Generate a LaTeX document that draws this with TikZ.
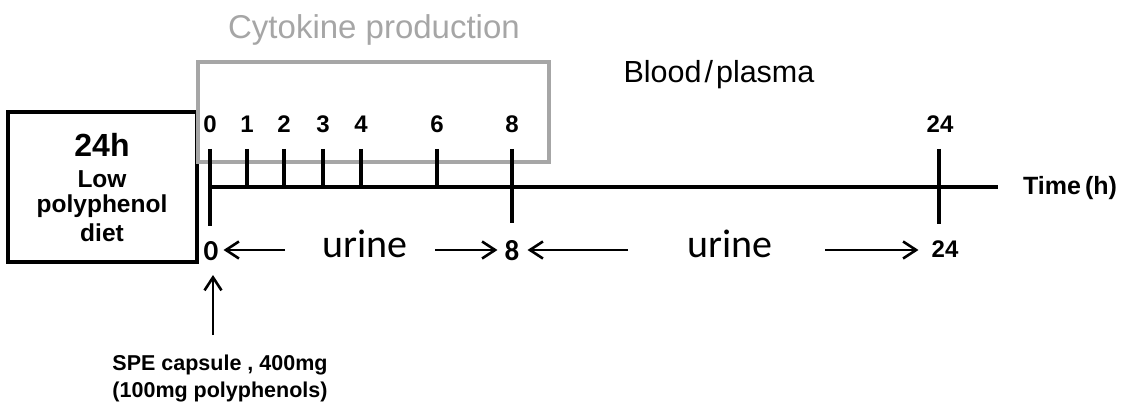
\documentclass[tikz,border=0pt]{standalone}
\usepackage{fontspec}
\setmainfont{Liberation Sans}
\newfontfamily\calib{Carlito}
\usetikzlibrary{arrows.meta}
\definecolor{boxgray}{HTML}{A6A6A6}
\tikzset{
  thickline/.style={line width=3.8pt},
  ticklbl/.style={font=\bfseries\fontsize{24}{26}\selectfont, inner sep=0pt, anchor=base},
  diettxt/.style={font=\bfseries\fontsize{24.5}{26}\selectfont, inner sep=0pt, anchor=base},
  urinetxt/.style={font=\calib\fontsize{40}{42}\selectfont, inner sep=0pt, anchor=base},
  bottomnum/.style={font=\calib\bfseries\fontsize{29}{30}\selectfont, inner sep=0pt, anchor=base},
  arr/.style={line width=2.6pt, -{Straight Barb[length=13pt,width=17pt,line width=2.6pt]}},
  spetxt/.style={font=\bfseries\fontsize{21.5}{23}\selectfont, inner sep=0pt, anchor=base},
}
\begin{document}
\begin{tikzpicture}[x=1pt,y=-1pt]
\useasboundingbox (0,0) rectangle (1128,409);
% headings
\node[font=\fontsize{33}{35}\selectfont, text=boxgray, inner sep=0pt, anchor=base] (cyto) at (374,39) {Cytokine production};
\node[font=\fontsize{30.5}{32}\selectfont, inner sep=0pt, anchor=base] (blood) at (719,83) {Blood\hspace{3pt}/\hspace{3pt}plasma};
% left box
\draw[line width=4.5pt] (8,112) rectangle (197,262);
\node[font=\bfseries\fontsize{32}{34}\selectfont, inner sep=0pt, anchor=base] (h24) at (102,157) {24h};
\node[diettxt] (low) at (102,188) {Low};
\node[diettxt] (poly) at (102,213) {polyphenol};
\node[diettxt] (diet) at (102,241) {diet};
% gray box
\draw[line width=4pt, boxgray] (198,62) rectangle (549,162);
% timeline
\coordinate (t0) at (210,187);
\coordinate (tend) at (998,187);
\draw[thickline] (t0) -- (tend);
\foreach \x/\n in {247/1,284/2,323/3,361/4,437/6}{
  \coordinate (tk\n) at (\x,149);
  \draw[thickline] (tk\n) -- (\x,187);
  \node[ticklbl] (l\n) at (\x,133) {\n};
}
\coordinate (tk0) at (210,149);
\draw[thickline] (tk0) -- (210,226);
\node[ticklbl] (l0) at (210,133) {0};
\coordinate (tk8) at (512,149);
\draw[thickline] (tk8) -- (512,223);
\node[ticklbl] (l8) at (512,133) {8};
\coordinate (tk24) at (939,149);
\draw[thickline] (tk24) -- (939,224);
\node[ticklbl] (l24) at (940,133) {24};
\node[font=\bfseries\fontsize{25}{27}\selectfont, inner sep=0pt] (time) at (1070,188) {Time\,(h)};
% bottom labels
\node[bottomnum] (b0) at (211,260) {0};
\node[bottomnum] (b8) at (512,260) {8};
\node[ticklbl] (b24) at (945,258) {24};
\node[urinetxt] (u1) at (365,257) {urine};
\node[urinetxt] (u2) at (730,257) {urine};
\coordinate (a1s) at (285,250);
\coordinate (a2s) at (435,250);
\coordinate (a3s) at (628,250);
\coordinate (a4s) at (825,250);
\draw[arr] (a1s) -- ([xshift=5pt]b0.east|-a1s);
\draw[arr] (a2s) -- ([xshift=-7pt]b8.west|-a2s);
\draw[arr] (a3s) -- ([xshift=8pt]b8.east|-a3s);
\draw[arr] (a4s) -- ([xshift=-13pt]b24.west|-a4s);
% capsule
\node[spetxt] (spe1) at (220,370) {SPE capsule , 400mg};
\node[spetxt] (spe2) at (220,397) {(100mg polyphenols)};
\coordinate (up) at (213,275);
\coordinate (upbase) at (213,335);
\draw[arr] (upbase) -- (up);
\end{tikzpicture}
\end{document}
